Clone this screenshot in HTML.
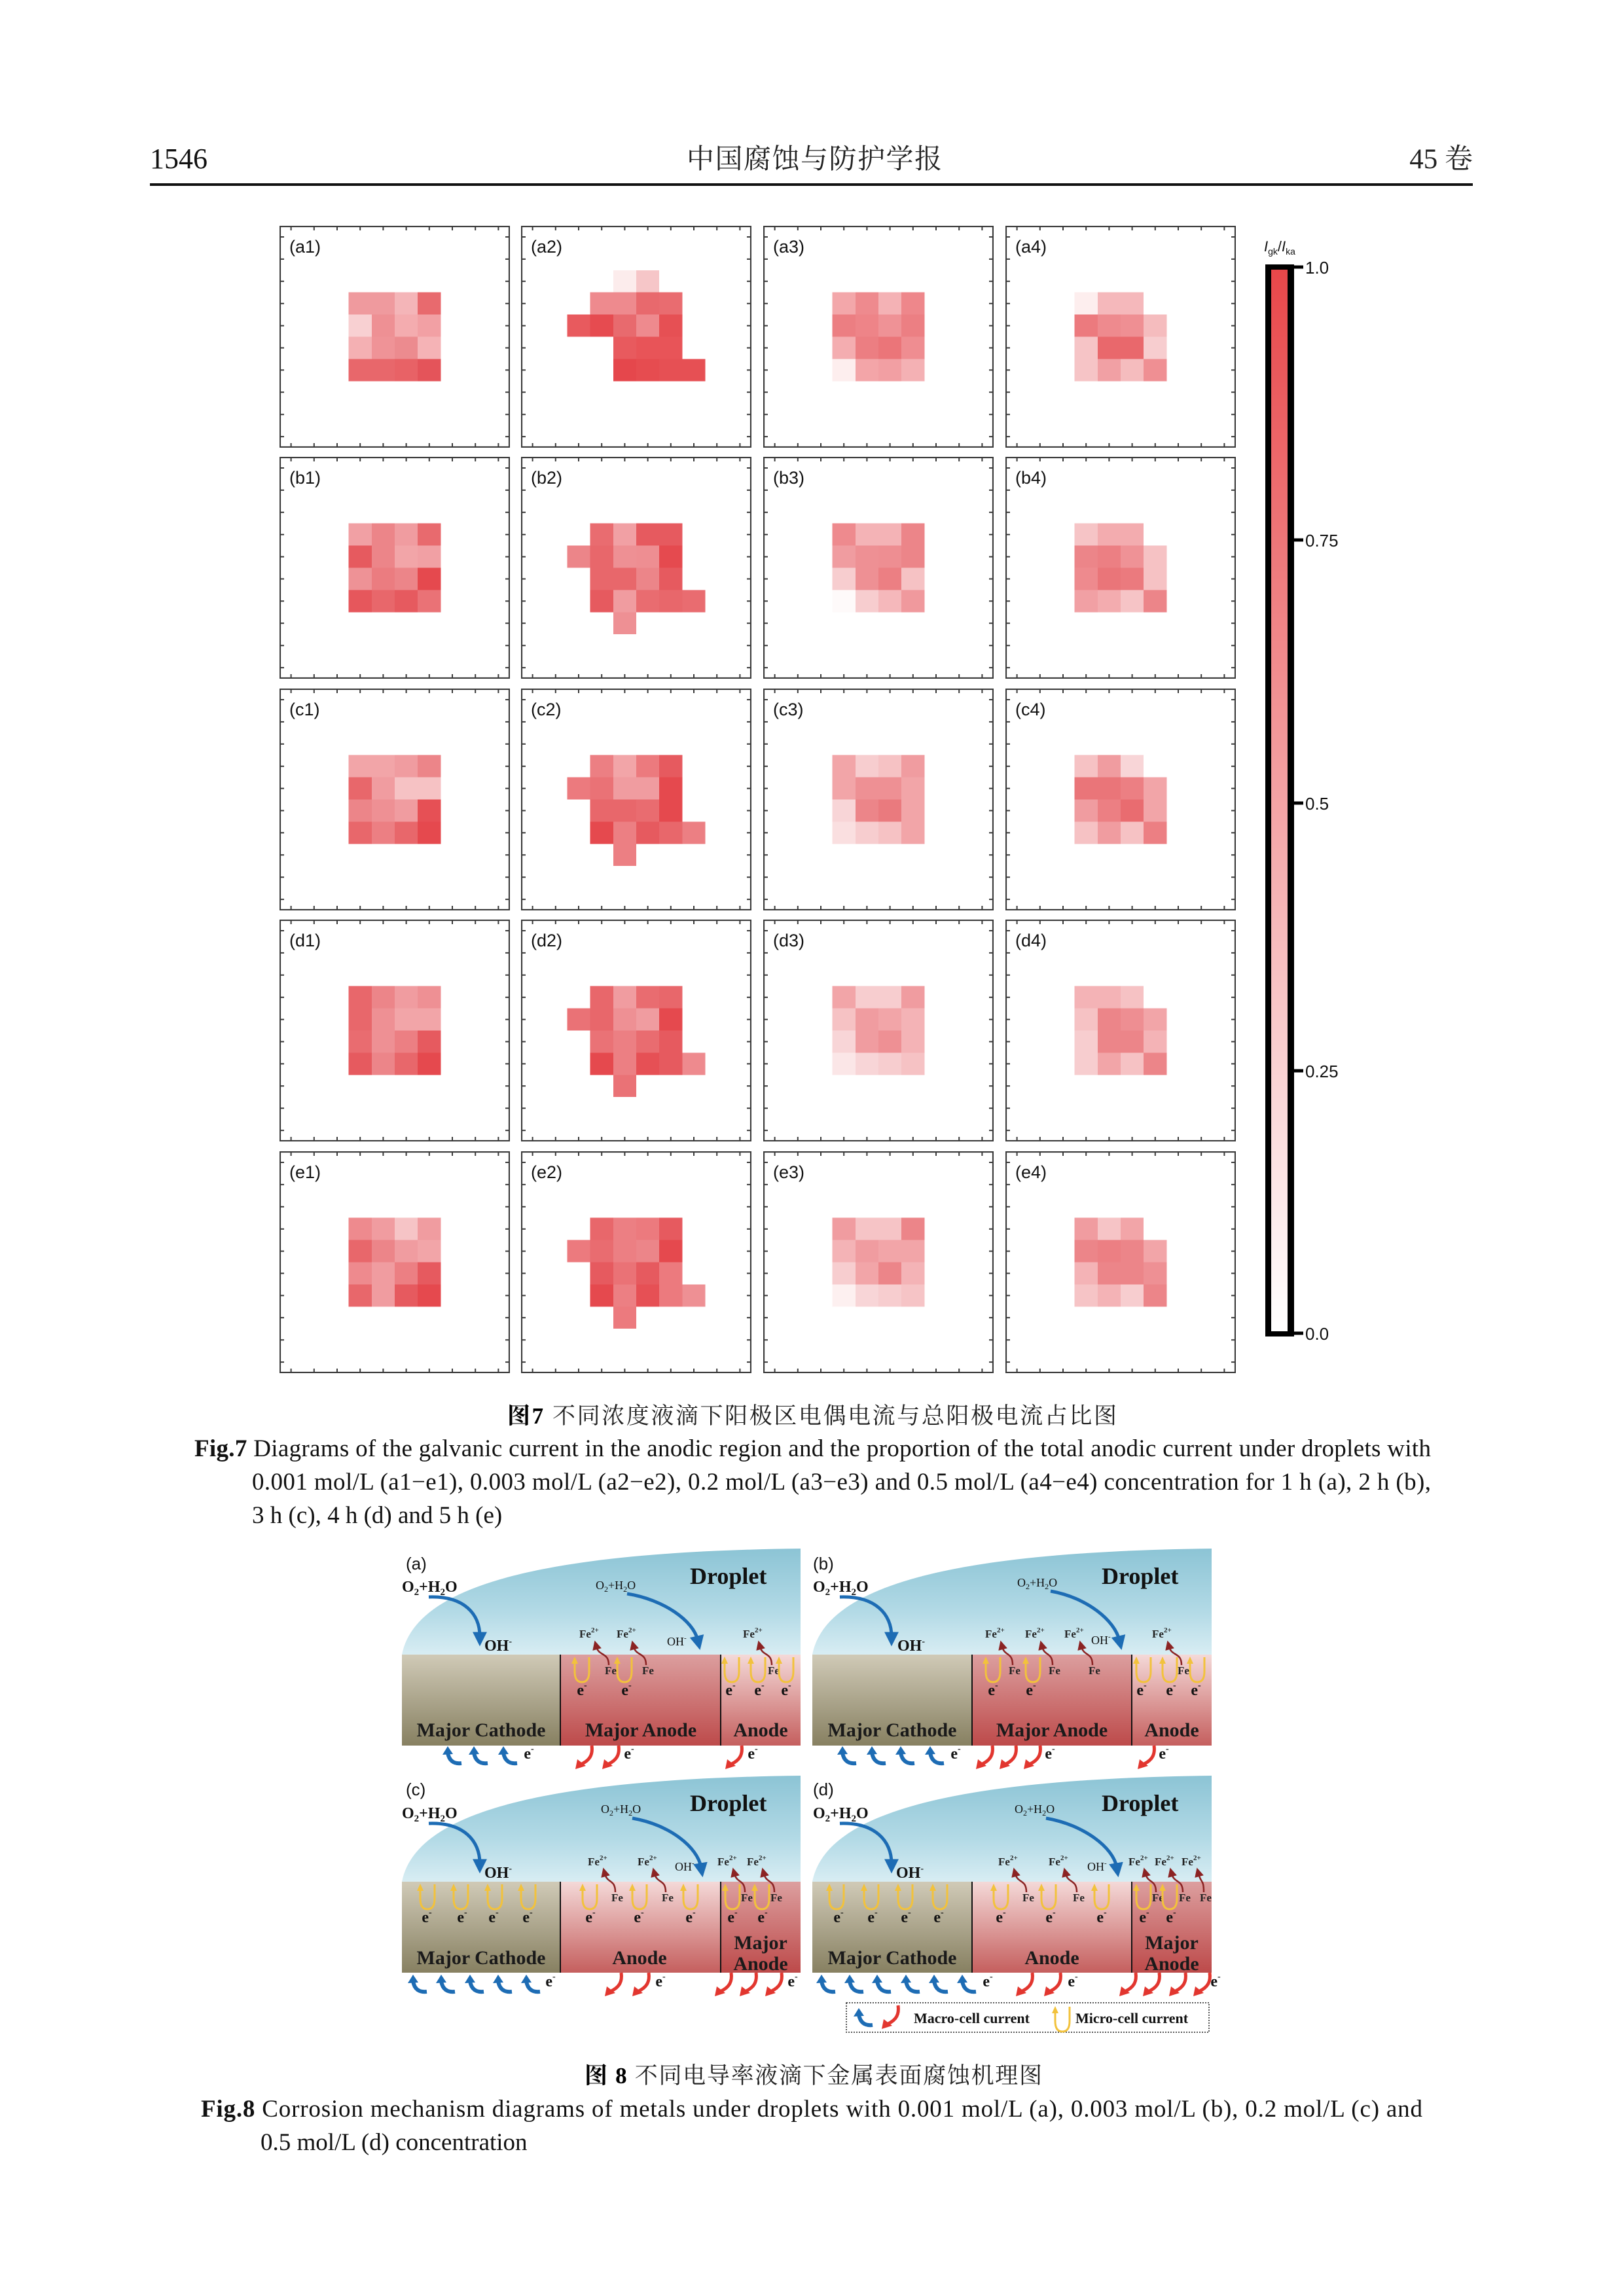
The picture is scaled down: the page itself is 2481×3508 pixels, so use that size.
<!DOCTYPE html>
<html><head><meta charset="utf-8">
<style>
html,body{margin:0;padding:0;background:#fff}
svg{display:block}
.pl{font-family:"Liberation Sans",sans-serif;font-size:27px;fill:#111}
.cb{font-family:"Liberation Sans",sans-serif;font-size:26px;fill:#111}
.cap{font-family:"Liberation Serif","Noto Serif CJK SC",serif;font-size:37px;fill:#111}
.zh{font-family:"Liberation Serif","Noto Serif CJK SC",serif;fill:#222}
.lbl{font-family:"Liberation Serif",serif;font-weight:bold;font-size:30px;fill:#1a1a1a;text-anchor:middle}
.dr{font-family:"Liberation Serif",serif;font-weight:bold;font-size:36px;fill:#111}
.ox{font-family:"Liberation Serif",serif;font-weight:bold;font-size:24px;fill:#111}
.oxs{font-family:"Liberation Serif",serif;font-size:18px;fill:#111}
.fe{font-family:"Liberation Serif",serif;font-weight:bold;font-size:17px;fill:#222}
.el{font-family:"Liberation Serif",serif;font-weight:bold;font-size:24px;fill:#111;text-anchor:middle}
.fl{font-family:"Liberation Sans",sans-serif;font-size:26px;fill:#111}
.ba{fill:none;stroke:#1d6cb4;stroke-width:5}
.fa{fill:none;stroke:#8b2323;stroke-width:2.5}
.lg{font-family:"Liberation Serif",serif;font-weight:bold;font-size:22px;fill:#111}
</style></head>
<body>
<svg width="2481" height="3508" viewBox="0 0 2481 3508">
<defs>
<g id="fr">
<rect x="1" y="1" width="350" height="337" fill="none" stroke="#3a3a3a" stroke-width="2.2"/>
<path fill="none" stroke="#3a3a3a" stroke-width="2" d="M17.6 2v5M52.8 2v5M88 2v5M123.2 2v5M158.4 2v5M193.6 2v5M228.8 2v5M264 2v5M299.2 2v5M334.4 2v5M17.6 337v-5M52.8 337v-5M88 337v-5M123.2 337v-5M158.4 337v-5M193.6 337v-5M228.8 337v-5M264 337v-5M299.2 337v-5M334.4 337v-5M2 17h5M2 50.9h5M2 84.8h5M2 118.7h5M2 152.6h5M2 186.5h5M2 220.4h5M2 254.3h5M2 288.2h5M2 322.1h5M350 17h-5M350 50.9h-5M350 84.8h-5M350 118.7h-5M350 152.6h-5M350 186.5h-5M350 220.4h-5M350 254.3h-5M350 288.2h-5M350 322.1h-5"/>
</g>
<linearGradient id="gcb" x1="0" y1="0" x2="0" y2="1"><stop offset="0" stop-color="#e8474a"/><stop offset="1" stop-color="#ffffff"/></linearGradient>
<linearGradient id="gDrop" x1="0" y1="0" x2="0" y2="1"><stop offset="0" stop-color="#8cc4d5"/><stop offset="0.6" stop-color="#b3dae6"/><stop offset="1" stop-color="#d8edf3"/></linearGradient>
<linearGradient id="gCath" x1="0" y1="0" x2="0" y2="1"><stop offset="0" stop-color="#d0cab7"/><stop offset="1" stop-color="#878061"/></linearGradient>
<linearGradient id="gMA" x1="0" y1="0" x2="0" y2="1"><stop offset="0" stop-color="#dc9f9f"/><stop offset="1" stop-color="#bd4a4a"/></linearGradient>
<linearGradient id="gAn" x1="0" y1="0" x2="0" y2="1"><stop offset="0" stop-color="#f4d9d8"/><stop offset="1" stop-color="#c55f5e"/></linearGradient>
<marker id="mbl" viewBox="0 0 10 10" refX="3" refY="5" markerWidth="22" markerHeight="22" markerUnits="userSpaceOnUse" orient="auto"><path d="M0,0L10,5L0,10Z" fill="#1d6cb4"/></marker>
<marker id="mr" viewBox="0 0 10 10" refX="3" refY="5" markerWidth="16" markerHeight="14" markerUnits="userSpaceOnUse" orient="auto"><path d="M0,0L10,5L0,10Z" fill="#8b2323"/></marker>
<g id="yu"><path d="M22,0V22Q22,38 11,38Q0,38 0,22V8" fill="none" stroke="#f2c23c" stroke-width="3"/><path d="M-5,10L0,-1L5,10Z" fill="#f2c23c"/></g>
<g id="bh"><path d="M30,26 Q12,28 9,10" fill="none" stroke="#1d6cb4" stroke-width="6"/><path d="M1,13 L9,0 L17,12Z" fill="#1d6cb4"/></g>
<g id="rh"><path d="M27,0 C29,14 24,22 12,28" fill="none" stroke="#e2362f" stroke-width="5"/><path d="M2,36 L5,21 L18,31Z" fill="#e2362f"/></g>
</defs>

<!-- Header -->
<text x="229" y="257" font-family="Liberation Serif,serif" font-size="44" fill="#111">1546</text>
<text x="1049" y="257" class="zh" font-size="42" textLength="390" lengthAdjust="spacing">中国腐蚀与防护学报</text>
<text x="2250" y="257" class="zh" font-size="43" text-anchor="end">45 卷</text>
<rect x="229" y="280" width="2021" height="4" fill="#111"/>

<!-- Row a -->
<svg x="427" y="345" width="352" height="339"><svg width="352" height="339" viewBox="0 0 10 10" preserveAspectRatio="none" shape-rendering="crispEdges">
<rect x="3" y="3" width="1" height="1" fill="#ef9a9e"/><rect x="4" y="3" width="1" height="1" fill="#ef9a9e"/><rect x="5" y="3" width="1" height="1" fill="#f4b5b8"/><rect x="6" y="3" width="1" height="1" fill="#e86a6e"/>
<rect x="3" y="4" width="1" height="1" fill="#f8d0d2"/><rect x="4" y="4" width="1" height="1" fill="#ee9094"/><rect x="5" y="4" width="1" height="1" fill="#f4acaf"/><rect x="6" y="4" width="1" height="1" fill="#f2a0a4"/>
<rect x="3" y="5" width="1" height="1" fill="#f4b0b3"/><rect x="4" y="5" width="1" height="1" fill="#ef9397"/><rect x="5" y="5" width="1" height="1" fill="#ec8b8f"/><rect x="6" y="5" width="1" height="1" fill="#f5b3b6"/>
<rect x="3" y="6" width="1" height="1" fill="#e8676b"/><rect x="4" y="6" width="1" height="1" fill="#e8676b"/><rect x="5" y="6" width="1" height="1" fill="#e86266"/><rect x="6" y="6" width="1" height="1" fill="#e4545a"/>
</svg><use href="#fr"/><text x="15" y="41" class="pl">(a1)</text></svg>

<svg x="796" y="345" width="352" height="339"><svg width="352" height="339" viewBox="0 0 10 10" preserveAspectRatio="none" shape-rendering="crispEdges">
<rect x="4" y="2" width="1" height="1" fill="#fcecec"/><rect x="5" y="2" width="1" height="1" fill="#f6c6c8"/>
<rect x="3" y="3" width="1" height="1" fill="#ee8a8e"/><rect x="4" y="3" width="1" height="1" fill="#ee8a8e"/><rect x="5" y="3" width="1" height="1" fill="#e8696d"/><rect x="6" y="3" width="1" height="1" fill="#e96c70"/>
<rect x="2" y="4" width="1" height="1" fill="#e85a5e"/><rect x="3" y="4" width="1" height="1" fill="#e64b50"/><rect x="4" y="4" width="1" height="1" fill="#e86a6e"/><rect x="5" y="4" width="1" height="1" fill="#ee8a8e"/><rect x="6" y="4" width="1" height="1" fill="#e65054"/>
<rect x="4" y="5" width="1" height="1" fill="#e85a5e"/><rect x="5" y="5" width="1" height="1" fill="#e85458"/><rect x="6" y="5" width="1" height="1" fill="#e85458"/>
<rect x="4" y="6" width="1" height="1" fill="#e5474c"/><rect x="5" y="6" width="1" height="1" fill="#e64c50"/><rect x="6" y="6" width="1" height="1" fill="#e65054"/><rect x="7" y="6" width="1" height="1" fill="#e65054"/>
</svg><use href="#fr"/><text x="15" y="41" class="pl">(a2)</text></svg>

<svg x="1166" y="345" width="352" height="339"><svg width="352" height="339" viewBox="0 0 10 10" preserveAspectRatio="none" shape-rendering="crispEdges">
<rect x="3" y="3" width="1" height="1" fill="#f3a7aa"/><rect x="4" y="3" width="1" height="1" fill="#ee8a8e"/><rect x="5" y="3" width="1" height="1" fill="#f4b2b5"/><rect x="6" y="3" width="1" height="1" fill="#ee878b"/>
<rect x="3" y="4" width="1" height="1" fill="#ec7e82"/><rect x="4" y="4" width="1" height="1" fill="#ee8488"/><rect x="5" y="4" width="1" height="1" fill="#ef9296"/><rect x="6" y="4" width="1" height="1" fill="#ec7f83"/>
<rect x="3" y="5" width="1" height="1" fill="#f4adb0"/><rect x="4" y="5" width="1" height="1" fill="#ec7e82"/><rect x="5" y="5" width="1" height="1" fill="#eb7579"/><rect x="6" y="5" width="1" height="1" fill="#ef8d91"/>
<rect x="3" y="6" width="1" height="1" fill="#fdeeee"/><rect x="4" y="6" width="1" height="1" fill="#f3a5a8"/><rect x="5" y="6" width="1" height="1" fill="#f29fa3"/><rect x="6" y="6" width="1" height="1" fill="#f4b1b4"/>
</svg><use href="#fr"/><text x="15" y="41" class="pl">(a3)</text></svg>

<svg x="1536" y="345" width="352" height="339"><svg width="352" height="339" viewBox="0 0 10 10" preserveAspectRatio="none" shape-rendering="crispEdges">
<rect x="3" y="3" width="1" height="1" fill="#fdeeee"/><rect x="4" y="3" width="1" height="1" fill="#f5b8bb"/><rect x="5" y="3" width="1" height="1" fill="#f5b8bb"/>
<rect x="3" y="4" width="1" height="1" fill="#ec7a7e"/><rect x="4" y="4" width="1" height="1" fill="#ee8a8e"/><rect x="5" y="4" width="1" height="1" fill="#ef8f93"/><rect x="6" y="4" width="1" height="1" fill="#f5bcbe"/>
<rect x="3" y="5" width="1" height="1" fill="#f6c4c6"/><rect x="4" y="5" width="1" height="1" fill="#e9686c"/><rect x="5" y="5" width="1" height="1" fill="#e9686c"/><rect x="6" y="5" width="1" height="1" fill="#f7cdcf"/>
<rect x="3" y="6" width="1" height="1" fill="#f6c4c6"/><rect x="4" y="6" width="1" height="1" fill="#f1a0a4"/><rect x="5" y="6" width="1" height="1" fill="#f5bcbe"/><rect x="6" y="6" width="1" height="1" fill="#ef8f93"/>
</svg><use href="#fr"/><text x="15" y="41" class="pl">(a4)</text></svg>

<!-- Row b -->
<svg x="427" y="698" width="352" height="339"><svg width="352" height="339" viewBox="0 0 10 10" preserveAspectRatio="none" shape-rendering="crispEdges">
<rect x="3" y="3" width="1" height="1" fill="#f1a0a4"/><rect x="4" y="3" width="1" height="1" fill="#ec8589"/><rect x="5" y="3" width="1" height="1" fill="#f09ca0"/><rect x="6" y="3" width="1" height="1" fill="#e86a6e"/>
<rect x="3" y="4" width="1" height="1" fill="#e65a5f"/><rect x="4" y="4" width="1" height="1" fill="#ec8589"/><rect x="5" y="4" width="1" height="1" fill="#f2a5a8"/><rect x="6" y="4" width="1" height="1" fill="#f1a0a4"/>
<rect x="3" y="5" width="1" height="1" fill="#ee9296"/><rect x="4" y="5" width="1" height="1" fill="#eb7c80"/><rect x="5" y="5" width="1" height="1" fill="#ec8589"/><rect x="6" y="5" width="1" height="1" fill="#e5494e"/>
<rect x="3" y="6" width="1" height="1" fill="#e6575c"/><rect x="4" y="6" width="1" height="1" fill="#e8676b"/><rect x="5" y="6" width="1" height="1" fill="#e65a5f"/><rect x="6" y="6" width="1" height="1" fill="#ea7276"/>
</svg><use href="#fr"/><text x="15" y="41" class="pl">(b1)</text></svg>

<svg x="796" y="698" width="352" height="339"><svg width="352" height="339" viewBox="0 0 10 10" preserveAspectRatio="none" shape-rendering="crispEdges">
<rect x="3" y="3" width="1" height="1" fill="#e96c70"/><rect x="4" y="3" width="1" height="1" fill="#f1a0a4"/><rect x="5" y="3" width="1" height="1" fill="#e65a5f"/><rect x="6" y="3" width="1" height="1" fill="#e65a5f"/>
<rect x="2" y="4" width="1" height="1" fill="#ec8589"/><rect x="3" y="4" width="1" height="1" fill="#e8676b"/><rect x="4" y="4" width="1" height="1" fill="#ee9094"/><rect x="5" y="4" width="1" height="1" fill="#ee8e92"/><rect x="6" y="4" width="1" height="1" fill="#e54a4f"/>
<rect x="3" y="5" width="1" height="1" fill="#e8676b"/><rect x="4" y="5" width="1" height="1" fill="#e8676b"/><rect x="5" y="5" width="1" height="1" fill="#ec8589"/><rect x="6" y="5" width="1" height="1" fill="#e65a5f"/>
<rect x="3" y="6" width="1" height="1" fill="#e65a5f"/><rect x="4" y="6" width="1" height="1" fill="#f09ca0"/><rect x="5" y="6" width="1" height="1" fill="#e96c70"/><rect x="6" y="6" width="1" height="1" fill="#e8676b"/><rect x="7" y="6" width="1" height="1" fill="#e96c70"/>
<rect x="4" y="7" width="1" height="1" fill="#ee9094"/>
</svg><use href="#fr"/><text x="15" y="41" class="pl">(b2)</text></svg>

<svg x="1166" y="698" width="352" height="339"><svg width="352" height="339" viewBox="0 0 10 10" preserveAspectRatio="none" shape-rendering="crispEdges">
<rect x="3" y="3" width="1" height="1" fill="#ee8a8e"/><rect x="4" y="3" width="1" height="1" fill="#f4b3b6"/><rect x="5" y="3" width="1" height="1" fill="#f4b3b6"/><rect x="6" y="3" width="1" height="1" fill="#ec8589"/>
<rect x="3" y="4" width="1" height="1" fill="#f09ca0"/><rect x="4" y="4" width="1" height="1" fill="#ee9094"/><rect x="5" y="4" width="1" height="1" fill="#ee8e92"/><rect x="6" y="4" width="1" height="1" fill="#ec8589"/>
<rect x="3" y="5" width="1" height="1" fill="#f7cdcf"/><rect x="4" y="5" width="1" height="1" fill="#ee9094"/><rect x="5" y="5" width="1" height="1" fill="#ec7f83"/><rect x="6" y="5" width="1" height="1" fill="#f6c2c4"/>
<rect x="3" y="6" width="1" height="1" fill="#fefafa"/><rect x="4" y="6" width="1" height="1" fill="#f7cdcf"/><rect x="5" y="6" width="1" height="1" fill="#f5b8bb"/><rect x="6" y="6" width="1" height="1" fill="#f0999d"/>
</svg><use href="#fr"/><text x="15" y="41" class="pl">(b3)</text></svg>

<svg x="1536" y="698" width="352" height="339"><svg width="352" height="339" viewBox="0 0 10 10" preserveAspectRatio="none" shape-rendering="crispEdges">
<rect x="3" y="3" width="1" height="1" fill="#f6c4c6"/><rect x="4" y="3" width="1" height="1" fill="#f3acaf"/><rect x="5" y="3" width="1" height="1" fill="#f3acaf"/>
<rect x="3" y="4" width="1" height="1" fill="#ec8589"/><rect x="4" y="4" width="1" height="1" fill="#ec7f83"/><rect x="5" y="4" width="1" height="1" fill="#ef9296"/><rect x="6" y="4" width="1" height="1" fill="#f6c2c4"/>
<rect x="3" y="5" width="1" height="1" fill="#ee8a8e"/><rect x="4" y="5" width="1" height="1" fill="#ea7579"/><rect x="5" y="5" width="1" height="1" fill="#eb7a7e"/><rect x="6" y="5" width="1" height="1" fill="#f6c2c4"/>
<rect x="3" y="6" width="1" height="1" fill="#f1a0a4"/><rect x="4" y="6" width="1" height="1" fill="#f3acaf"/><rect x="5" y="6" width="1" height="1" fill="#f6c4c6"/><rect x="6" y="6" width="1" height="1" fill="#ec8589"/>
</svg><use href="#fr"/><text x="15" y="41" class="pl">(b4)</text></svg>

<!-- Row c -->
<svg x="427" y="1052" width="352" height="339"><svg width="352" height="339" viewBox="0 0 10 10" preserveAspectRatio="none" shape-rendering="crispEdges">
<rect x="3" y="3" width="1" height="1" fill="#f2a5a8"/><rect x="4" y="3" width="1" height="1" fill="#f2a5a8"/><rect x="5" y="3" width="1" height="1" fill="#f09ca0"/><rect x="6" y="3" width="1" height="1" fill="#ec8589"/>
<rect x="3" y="4" width="1" height="1" fill="#e8676b"/><rect x="4" y="4" width="1" height="1" fill="#f09ca0"/><rect x="5" y="4" width="1" height="1" fill="#f6c2c4"/><rect x="6" y="4" width="1" height="1" fill="#f6c2c4"/>
<rect x="3" y="5" width="1" height="1" fill="#ec8589"/><rect x="4" y="5" width="1" height="1" fill="#ee9094"/><rect x="5" y="5" width="1" height="1" fill="#f09ca0"/><rect x="6" y="5" width="1" height="1" fill="#e65055"/>
<rect x="3" y="6" width="1" height="1" fill="#e8676b"/><rect x="4" y="6" width="1" height="1" fill="#ec7f83"/><rect x="5" y="6" width="1" height="1" fill="#e8676b"/><rect x="6" y="6" width="1" height="1" fill="#e5494e"/>
</svg><use href="#fr"/><text x="15" y="41" class="pl">(c1)</text></svg>

<svg x="796" y="1052" width="352" height="339"><svg width="352" height="339" viewBox="0 0 10 10" preserveAspectRatio="none" shape-rendering="crispEdges">
<rect x="3" y="3" width="1" height="1" fill="#ec7f83"/><rect x="4" y="3" width="1" height="1" fill="#f2a5a8"/><rect x="5" y="3" width="1" height="1" fill="#ec7a7e"/><rect x="6" y="3" width="1" height="1" fill="#e65a5f"/>
<rect x="2" y="4" width="1" height="1" fill="#ec7a7e"/><rect x="3" y="4" width="1" height="1" fill="#ea7276"/><rect x="4" y="4" width="1" height="1" fill="#f09ca0"/><rect x="5" y="4" width="1" height="1" fill="#f09ca0"/><rect x="6" y="4" width="1" height="1" fill="#e5494e"/>
<rect x="3" y="5" width="1" height="1" fill="#e8676b"/><rect x="4" y="5" width="1" height="1" fill="#e8676b"/><rect x="5" y="5" width="1" height="1" fill="#e96c70"/><rect x="6" y="5" width="1" height="1" fill="#e5494e"/>
<rect x="3" y="6" width="1" height="1" fill="#e5494e"/><rect x="4" y="6" width="1" height="1" fill="#ec7f83"/><rect x="5" y="6" width="1" height="1" fill="#e65a5f"/><rect x="6" y="6" width="1" height="1" fill="#e8676b"/><rect x="7" y="6" width="1" height="1" fill="#ec7f83"/>
<rect x="4" y="7" width="1" height="1" fill="#ec7f83"/>
</svg><use href="#fr"/><text x="15" y="41" class="pl">(c2)</text></svg>

<svg x="1166" y="1052" width="352" height="339"><svg width="352" height="339" viewBox="0 0 10 10" preserveAspectRatio="none" shape-rendering="crispEdges">
<rect x="3" y="3" width="1" height="1" fill="#f2a5a8"/><rect x="4" y="3" width="1" height="1" fill="#f7cdcf"/><rect x="5" y="3" width="1" height="1" fill="#f6c2c4"/><rect x="6" y="3" width="1" height="1" fill="#f09ca0"/>
<rect x="3" y="4" width="1" height="1" fill="#f2a5a8"/><rect x="4" y="4" width="1" height="1" fill="#ee9094"/><rect x="5" y="4" width="1" height="1" fill="#ee9094"/><rect x="6" y="4" width="1" height="1" fill="#f2a5a8"/>
<rect x="3" y="5" width="1" height="1" fill="#f8d5d7"/><rect x="4" y="5" width="1" height="1" fill="#ec8589"/><rect x="5" y="5" width="1" height="1" fill="#ea7a7e"/><rect x="6" y="5" width="1" height="1" fill="#f2a5a8"/>
<rect x="3" y="6" width="1" height="1" fill="#fadfe0"/><rect x="4" y="6" width="1" height="1" fill="#f7cdcf"/><rect x="5" y="6" width="1" height="1" fill="#f6c2c4"/><rect x="6" y="6" width="1" height="1" fill="#f2a5a8"/>
</svg><use href="#fr"/><text x="15" y="41" class="pl">(c3)</text></svg>

<svg x="1536" y="1052" width="352" height="339"><svg width="352" height="339" viewBox="0 0 10 10" preserveAspectRatio="none" shape-rendering="crispEdges">
<rect x="3" y="3" width="1" height="1" fill="#f6c2c4"/><rect x="4" y="3" width="1" height="1" fill="#f09ca0"/><rect x="5" y="3" width="1" height="1" fill="#f8d5d7"/>
<rect x="3" y="4" width="1" height="1" fill="#ea7579"/><rect x="4" y="4" width="1" height="1" fill="#ea7579"/><rect x="5" y="4" width="1" height="1" fill="#ec7f83"/><rect x="6" y="4" width="1" height="1" fill="#f2a5a8"/>
<rect x="3" y="5" width="1" height="1" fill="#f09ca0"/><rect x="4" y="5" width="1" height="1" fill="#ec7f83"/><rect x="5" y="5" width="1" height="1" fill="#e96c70"/><rect x="6" y="5" width="1" height="1" fill="#f2a5a8"/>
<rect x="3" y="6" width="1" height="1" fill="#f6c2c4"/><rect x="4" y="6" width="1" height="1" fill="#f09ca0"/><rect x="5" y="6" width="1" height="1" fill="#f6c2c4"/><rect x="6" y="6" width="1" height="1" fill="#ec7f83"/>
</svg><use href="#fr"/><text x="15" y="41" class="pl">(c4)</text></svg>

<!-- Row d -->
<svg x="427" y="1405" width="352" height="339"><svg width="352" height="339" viewBox="0 0 10 10" preserveAspectRatio="none" shape-rendering="crispEdges">
<rect x="3" y="3" width="1" height="1" fill="#e8676b"/><rect x="4" y="3" width="1" height="1" fill="#ec8589"/><rect x="5" y="3" width="1" height="1" fill="#f09ca0"/><rect x="6" y="3" width="1" height="1" fill="#ee9094"/>
<rect x="3" y="4" width="1" height="1" fill="#e8676b"/><rect x="4" y="4" width="1" height="1" fill="#ee9094"/><rect x="5" y="4" width="1" height="1" fill="#f2a5a8"/><rect x="6" y="4" width="1" height="1" fill="#f2a5a8"/>
<rect x="3" y="5" width="1" height="1" fill="#e96c70"/><rect x="4" y="5" width="1" height="1" fill="#ee9094"/><rect x="5" y="5" width="1" height="1" fill="#ec7f83"/><rect x="6" y="5" width="1" height="1" fill="#e65a5f"/>
<rect x="3" y="6" width="1" height="1" fill="#e65a5f"/><rect x="4" y="6" width="1" height="1" fill="#ec8589"/><rect x="5" y="6" width="1" height="1" fill="#e8676b"/><rect x="6" y="6" width="1" height="1" fill="#e5494e"/>
</svg><use href="#fr"/><text x="15" y="41" class="pl">(d1)</text></svg>

<svg x="796" y="1405" width="352" height="339"><svg width="352" height="339" viewBox="0 0 10 10" preserveAspectRatio="none" shape-rendering="crispEdges">
<rect x="3" y="3" width="1" height="1" fill="#e8676b"/><rect x="4" y="3" width="1" height="1" fill="#f09ca0"/><rect x="5" y="3" width="1" height="1" fill="#e96c70"/><rect x="6" y="3" width="1" height="1" fill="#e8676b"/>
<rect x="2" y="4" width="1" height="1" fill="#ea7276"/><rect x="3" y="4" width="1" height="1" fill="#e8676b"/><rect x="4" y="4" width="1" height="1" fill="#ee9094"/><rect x="5" y="4" width="1" height="1" fill="#f09ca0"/><rect x="6" y="4" width="1" height="1" fill="#e5494e"/>
<rect x="3" y="5" width="1" height="1" fill="#ea7276"/><rect x="4" y="5" width="1" height="1" fill="#ec7f83"/><rect x="5" y="5" width="1" height="1" fill="#e96c70"/><rect x="6" y="5" width="1" height="1" fill="#e65a5f"/>
<rect x="3" y="6" width="1" height="1" fill="#e5494e"/><rect x="4" y="6" width="1" height="1" fill="#ec7f83"/><rect x="5" y="6" width="1" height="1" fill="#e65055"/><rect x="6" y="6" width="1" height="1" fill="#e65a5f"/><rect x="7" y="6" width="1" height="1" fill="#ee8a8e"/>
<rect x="4" y="7" width="1" height="1" fill="#ea7276"/>
</svg><use href="#fr"/><text x="15" y="41" class="pl">(d2)</text></svg>

<svg x="1166" y="1405" width="352" height="339"><svg width="352" height="339" viewBox="0 0 10 10" preserveAspectRatio="none" shape-rendering="crispEdges">
<rect x="3" y="3" width="1" height="1" fill="#f2a5a8"/><rect x="4" y="3" width="1" height="1" fill="#f7cdcf"/><rect x="5" y="3" width="1" height="1" fill="#f7cdcf"/><rect x="6" y="3" width="1" height="1" fill="#f09ca0"/>
<rect x="3" y="4" width="1" height="1" fill="#f6c2c4"/><rect x="4" y="4" width="1" height="1" fill="#f09ca0"/><rect x="5" y="4" width="1" height="1" fill="#f2a5a8"/><rect x="6" y="4" width="1" height="1" fill="#f4b3b6"/>
<rect x="3" y="5" width="1" height="1" fill="#f8d5d7"/><rect x="4" y="5" width="1" height="1" fill="#f09ca0"/><rect x="5" y="5" width="1" height="1" fill="#ee9094"/><rect x="6" y="5" width="1" height="1" fill="#f4b3b6"/>
<rect x="3" y="6" width="1" height="1" fill="#fbe6e7"/><rect x="4" y="6" width="1" height="1" fill="#f8d5d7"/><rect x="5" y="6" width="1" height="1" fill="#f7cdcf"/><rect x="6" y="6" width="1" height="1" fill="#f6c2c4"/>
</svg><use href="#fr"/><text x="15" y="41" class="pl">(d3)</text></svg>

<svg x="1536" y="1405" width="352" height="339"><svg width="352" height="339" viewBox="0 0 10 10" preserveAspectRatio="none" shape-rendering="crispEdges">
<rect x="3" y="3" width="1" height="1" fill="#f4b3b6"/><rect x="4" y="3" width="1" height="1" fill="#f4b3b6"/><rect x="5" y="3" width="1" height="1" fill="#f6c2c4"/>
<rect x="3" y="4" width="1" height="1" fill="#f6c2c4"/><rect x="4" y="4" width="1" height="1" fill="#ec8589"/><rect x="5" y="4" width="1" height="1" fill="#ee8e92"/><rect x="6" y="4" width="1" height="1" fill="#f2a5a8"/>
<rect x="3" y="5" width="1" height="1" fill="#f7cdcf"/><rect x="4" y="5" width="1" height="1" fill="#ec8589"/><rect x="5" y="5" width="1" height="1" fill="#ec8589"/><rect x="6" y="5" width="1" height="1" fill="#f4b3b6"/>
<rect x="3" y="6" width="1" height="1" fill="#f7cdcf"/><rect x="4" y="6" width="1" height="1" fill="#f2a5a8"/><rect x="5" y="6" width="1" height="1" fill="#f6c2c4"/><rect x="6" y="6" width="1" height="1" fill="#ec8589"/>
</svg><use href="#fr"/><text x="15" y="41" class="pl">(d4)</text></svg>

<!-- Row e -->
<svg x="427" y="1759" width="352" height="339"><svg width="352" height="339" viewBox="0 0 10 10" preserveAspectRatio="none" shape-rendering="crispEdges">
<rect x="3" y="3" width="1" height="1" fill="#ee8a8e"/><rect x="4" y="3" width="1" height="1" fill="#f09ca0"/><rect x="5" y="3" width="1" height="1" fill="#f6c4c6"/><rect x="6" y="3" width="1" height="1" fill="#f09ca0"/>
<rect x="3" y="4" width="1" height="1" fill="#e8676b"/><rect x="4" y="4" width="1" height="1" fill="#ec8589"/><rect x="5" y="4" width="1" height="1" fill="#f09ca0"/><rect x="6" y="4" width="1" height="1" fill="#f2a5a8"/>
<rect x="3" y="5" width="1" height="1" fill="#ee8a8e"/><rect x="4" y="5" width="1" height="1" fill="#f09ca0"/><rect x="5" y="5" width="1" height="1" fill="#ec7f83"/><rect x="6" y="5" width="1" height="1" fill="#e65a5f"/>
<rect x="3" y="6" width="1" height="1" fill="#e8676b"/><rect x="4" y="6" width="1" height="1" fill="#f09ca0"/><rect x="5" y="6" width="1" height="1" fill="#e65a5f"/><rect x="6" y="6" width="1" height="1" fill="#e5494e"/>
</svg><use href="#fr"/><text x="15" y="41" class="pl">(e1)</text></svg>

<svg x="796" y="1759" width="352" height="339"><svg width="352" height="339" viewBox="0 0 10 10" preserveAspectRatio="none" shape-rendering="crispEdges">
<rect x="3" y="3" width="1" height="1" fill="#e8676b"/><rect x="4" y="3" width="1" height="1" fill="#ec7f83"/><rect x="5" y="3" width="1" height="1" fill="#ec7a7e"/><rect x="6" y="3" width="1" height="1" fill="#e65a5f"/>
<rect x="2" y="4" width="1" height="1" fill="#ec7a7e"/><rect x="3" y="4" width="1" height="1" fill="#e96c70"/><rect x="4" y="4" width="1" height="1" fill="#ec7f83"/><rect x="5" y="4" width="1" height="1" fill="#ec8589"/><rect x="6" y="4" width="1" height="1" fill="#e5494e"/>
<rect x="3" y="5" width="1" height="1" fill="#e65a5f"/><rect x="4" y="5" width="1" height="1" fill="#ea7276"/><rect x="5" y="5" width="1" height="1" fill="#e65a5f"/><rect x="6" y="5" width="1" height="1" fill="#ec7a7e"/>
<rect x="3" y="6" width="1" height="1" fill="#e5494e"/><rect x="4" y="6" width="1" height="1" fill="#ec7f83"/><rect x="5" y="6" width="1" height="1" fill="#e65055"/><rect x="6" y="6" width="1" height="1" fill="#ec7a7e"/><rect x="7" y="6" width="1" height="1" fill="#ee9094"/>
<rect x="4" y="7" width="1" height="1" fill="#ec7a7e"/>
</svg><use href="#fr"/><text x="15" y="41" class="pl">(e2)</text></svg>

<svg x="1166" y="1759" width="352" height="339"><svg width="352" height="339" viewBox="0 0 10 10" preserveAspectRatio="none" shape-rendering="crispEdges">
<rect x="3" y="3" width="1" height="1" fill="#f09ca0"/><rect x="4" y="3" width="1" height="1" fill="#f6c4c6"/><rect x="5" y="3" width="1" height="1" fill="#f6c4c6"/><rect x="6" y="3" width="1" height="1" fill="#ec8589"/>
<rect x="3" y="4" width="1" height="1" fill="#f4b3b6"/><rect x="4" y="4" width="1" height="1" fill="#f09ca0"/><rect x="5" y="4" width="1" height="1" fill="#f2a5a8"/><rect x="6" y="4" width="1" height="1" fill="#f2a5a8"/>
<rect x="3" y="5" width="1" height="1" fill="#f7cdcf"/><rect x="4" y="5" width="1" height="1" fill="#f2a5a8"/><rect x="5" y="5" width="1" height="1" fill="#ec8589"/><rect x="6" y="5" width="1" height="1" fill="#f4b3b6"/>
<rect x="3" y="6" width="1" height="1" fill="#fdf0f0"/><rect x="4" y="6" width="1" height="1" fill="#f8d5d7"/><rect x="5" y="6" width="1" height="1" fill="#f7cdcf"/><rect x="6" y="6" width="1" height="1" fill="#f6c4c6"/>
</svg><use href="#fr"/><text x="15" y="41" class="pl">(e3)</text></svg>

<svg x="1536" y="1759" width="352" height="339"><svg width="352" height="339" viewBox="0 0 10 10" preserveAspectRatio="none" shape-rendering="crispEdges">
<rect x="3" y="3" width="1" height="1" fill="#f09ca0"/><rect x="4" y="3" width="1" height="1" fill="#f6c4c6"/><rect x="5" y="3" width="1" height="1" fill="#f2a5a8"/>
<rect x="3" y="4" width="1" height="1" fill="#ec8589"/><rect x="4" y="4" width="1" height="1" fill="#ec7f83"/><rect x="5" y="4" width="1" height="1" fill="#ec8589"/><rect x="6" y="4" width="1" height="1" fill="#f2a5a8"/>
<rect x="3" y="5" width="1" height="1" fill="#f4b3b6"/><rect x="4" y="5" width="1" height="1" fill="#ec8589"/><rect x="5" y="5" width="1" height="1" fill="#ec8589"/><rect x="6" y="5" width="1" height="1" fill="#ee9094"/>
<rect x="3" y="6" width="1" height="1" fill="#f6c4c6"/><rect x="4" y="6" width="1" height="1" fill="#f4b3b6"/><rect x="5" y="6" width="1" height="1" fill="#f7cdcf"/><rect x="6" y="6" width="1" height="1" fill="#ec8589"/>
</svg><use href="#fr"/><text x="15" y="41" class="pl">(e4)</text></svg>

<!-- Colorbar -->
<text x="1931" y="384" font-family="Liberation Sans,sans-serif" font-size="22" fill="#111"><tspan font-style="italic">I</tspan><tspan font-size="14" dy="5">gk</tspan><tspan dy="-5">/</tspan><tspan font-style="italic">I</tspan><tspan font-size="14" dy="5">ka</tspan></text>
<rect x="1933" y="404" width="44" height="1638" fill="#000"/>
<rect x="1942" y="412" width="25" height="1622" fill="url(#gcb)"/>
<path d="M1977 408h14M1977 825h14M1977 1227h14M1977 1636h14M1977 2037h14" stroke="#000" stroke-width="5"/>
<text x="1994" y="418" class="cb">1.0</text>
<text x="1994" y="835" class="cb">0.75</text>
<text x="1994" y="1237" class="cb">0.5</text>
<text x="1994" y="1646" class="cb">0.25</text>
<text x="1994" y="2047" class="cb">0.0</text>

<!-- Fig 7 caption -->
<text x="775" y="2175" class="zh" font-size="35" textLength="931" lengthAdjust="spacing"><tspan font-weight="bold" fill="#000">图7</tspan> 不同浓度液滴下阳极区电偶电流与总阳极电流占比图</text>
<text x="297" y="2225" class="cap" textLength="1889" lengthAdjust="spacing"><tspan font-weight="bold">Fig.7</tspan> Diagrams of the galvanic current in the anodic region and the proportion of the total anodic current under droplets with</text>
<text x="385" y="2276" class="cap" textLength="1801" lengthAdjust="spacing">0.001 mol/L (a1−e1), 0.003 mol/L (a2−e2), 0.2 mol/L (a3−e3) and 0.5 mol/L (a4−e4) concentration for 1 h (a), 2 h (b),</text>
<text x="385" y="2327" class="cap">3 h (c), 4 h (d) and 5 h (e)</text>

<!-- Fig 8 panel a -->
<g transform="translate(614,2366)">
<path d="M0,162 C20,60 200,5 609,0 L609,162Z" fill="url(#gDrop)"/>
<rect x="0" y="162" width="242" height="139" fill="url(#gCath)"/>
<rect x="242" y="162" width="245" height="139" fill="url(#gMA)"/>
<rect x="487" y="162" width="122" height="139" fill="url(#gAn)"/>
<path d="M242,162V301M487,162V301" stroke="#111" stroke-width="2"/>
<text x="6" y="32" class="fl">(a)</text>
<text x="440" y="54" class="dr">Droplet</text>
<text x="0" y="66" class="ox">O<tspan dy="5" font-size="15">2</tspan><tspan dy="-5">+H</tspan><tspan dy="5" font-size="15">2</tspan><tspan dy="-5">O</tspan></text>
<path d="M41,74 C95,72 119,100 119,134" class="ba" marker-end="url(#mbl)"/>
<text x="126" y="156" class="ox">OH<tspan dy="-10" font-size="14">-</tspan></text>
<text x="296" y="62" class="oxs">O<tspan dy="4" font-size="12">2</tspan><tspan dy="-4">+H</tspan><tspan dy="4" font-size="12">2</tspan><tspan dy="-4">O</tspan></text>
<path d="M344,69 C400,78 445,110 452,140" class="ba" marker-end="url(#mbl)"/>
<text x="405" y="148" class="oxs">OH<tspan dy="-8" font-size="11">-</tspan></text>
<text x="271" y="136" class="fe">Fe<tspan dy="-8" font-size="11">2+</tspan></text>
<text x="328" y="136" class="fe">Fe<tspan dy="-8" font-size="11">2+</tspan></text>
<text x="521" y="136" class="fe">Fe<tspan dy="-8" font-size="11">2+</tspan></text>
<path d="M316,178 C316,158 301,165 297,150" class="fa" marker-end="url(#mr)"/>
<path d="M373,178 C373,158 358,165 354,150" class="fa" marker-end="url(#mr)"/>
<path d="M565,178 C565,158 551,165 547,150" class="fa" marker-end="url(#mr)"/>
<text x="310" y="192" class="fe">Fe</text><text x="367" y="192" class="fe">Fe</text><text x="559" y="192" class="fe">Fe</text>
<use href="#yu" x="264" y="166"/><use href="#yu" x="329" y="166"/><use href="#yu" x="493" y="166"/><use href="#yu" x="533" y="166"/><use href="#yu" x="576" y="166"/>
<text x="275" y="224" class="el">e<tspan dy="-11" font-size="14">-</tspan></text>
<text x="343" y="224" class="el">e<tspan dy="-11" font-size="14">-</tspan></text>
<text x="502" y="224" class="el">e<tspan dy="-11" font-size="14">-</tspan></text>
<text x="546" y="224" class="el">e<tspan dy="-11" font-size="14">-</tspan></text>
<text x="587" y="224" class="el">e<tspan dy="-11" font-size="14">-</tspan></text>
<text x="121" y="287" class="lbl">Major Cathode</text>
<text x="365" y="287" class="lbl">Major Anode</text>
<text x="548" y="287" class="lbl">Anode</text>
<use href="#bh" x="61" y="302"/><use href="#bh" x="101" y="302"/><use href="#bh" x="146" y="302"/>
<text x="194" y="321" class="el">e<tspan dy="-11" font-size="14">-</tspan></text>
<use href="#rh" x="263" y="301"/><use href="#rh" x="304" y="301"/>
<text x="347" y="321" class="el">e<tspan dy="-11" font-size="14">-</tspan></text>
<use href="#rh" x="492" y="301"/>
<text x="536" y="321" class="el">e<tspan dy="-11" font-size="14">-</tspan></text>
</g>

<!-- Fig 8 panel b -->
<g transform="translate(1241,2366)">
<path d="M0,162 C20,60 200,5 610,0 L610,162Z" fill="url(#gDrop)"/>
<rect x="0" y="162" width="244" height="139" fill="url(#gCath)"/>
<rect x="244" y="162" width="244" height="139" fill="url(#gMA)"/>
<rect x="488" y="162" width="122" height="139" fill="url(#gAn)"/>
<path d="M244,162V301M488,162V301" stroke="#111" stroke-width="2"/>
<text x="1" y="32" class="fl">(b)</text>
<text x="442" y="54" class="dr">Droplet</text>
<text x="1" y="66" class="ox">O<tspan dy="5" font-size="15">2</tspan><tspan dy="-5">+H</tspan><tspan dy="5" font-size="15">2</tspan><tspan dy="-5">O</tspan></text>
<path d="M42,74 C96,72 121,100 121,134" class="ba" marker-end="url(#mbl)"/>
<text x="130" y="156" class="ox">OH<tspan dy="-10" font-size="14">-</tspan></text>
<text x="313" y="58" class="oxs">O<tspan dy="4" font-size="12">2</tspan><tspan dy="-4">+H</tspan><tspan dy="4" font-size="12">2</tspan><tspan dy="-4">O</tspan></text>
<path d="M364,65 C420,75 462,110 469,140" class="ba" marker-end="url(#mbl)"/>
<text x="426" y="146" class="oxs">OH<tspan dy="-8" font-size="11">-</tspan></text>
<text x="264" y="136" class="fe">Fe<tspan dy="-8" font-size="11">2+</tspan></text>
<text x="325" y="136" class="fe">Fe<tspan dy="-8" font-size="11">2+</tspan></text>
<text x="385" y="136" class="fe">Fe<tspan dy="-8" font-size="11">2+</tspan></text>
<text x="519" y="136" class="fe">Fe<tspan dy="-8" font-size="11">2+</tspan></text>
<path d="M306,178 C306,158 294,165 290,150" class="fa" marker-end="url(#mr)"/>
<path d="M367,178 C367,158 355,165 351,150" class="fa" marker-end="url(#mr)"/>
<path d="M428,178 C428,158 415,165 411,150" class="fa" marker-end="url(#mr)"/>
<path d="M564,178 C564,158 549,165 545,150" class="fa" marker-end="url(#mr)"/>
<text x="300" y="192" class="fe">Fe</text><text x="361" y="192" class="fe">Fe</text><text x="422" y="192" class="fe">Fe</text><text x="558" y="192" class="fe">Fe</text>
<use href="#yu" x="265" y="166"/><use href="#yu" x="326" y="166"/><use href="#yu" x="495" y="166"/><use href="#yu" x="535" y="166"/><use href="#yu" x="577" y="166"/>
<text x="276" y="224" class="el">e<tspan dy="-11" font-size="14">-</tspan></text>
<text x="334" y="224" class="el">e<tspan dy="-11" font-size="14">-</tspan></text>
<text x="503" y="224" class="el">e<tspan dy="-11" font-size="14">-</tspan></text>
<text x="548" y="224" class="el">e<tspan dy="-11" font-size="14">-</tspan></text>
<text x="586" y="224" class="el">e<tspan dy="-11" font-size="14">-</tspan></text>
<text x="122" y="287" class="lbl">Major Cathode</text>
<text x="366" y="287" class="lbl">Major Anode</text>
<text x="549" y="287" class="lbl">Anode</text>
<use href="#bh" x="37" y="302"/><use href="#bh" x="82" y="302"/><use href="#bh" x="126" y="302"/><use href="#bh" x="171" y="302"/>
<text x="219" y="321" class="el">e<tspan dy="-11" font-size="14">-</tspan></text>
<use href="#rh" x="248" y="301"/><use href="#rh" x="284" y="301"/><use href="#rh" x="321" y="301"/>
<text x="363" y="321" class="el">e<tspan dy="-11" font-size="14">-</tspan></text>
<use href="#rh" x="495" y="301"/>
<text x="537" y="321" class="el">e<tspan dy="-11" font-size="14">-</tspan></text>
</g>

<!-- Fig 8 panel c -->
<g transform="translate(614,2713)">
<path d="M0,162 C20,60 200,5 609,0 L609,162Z" fill="url(#gDrop)"/>
<rect x="0" y="162" width="242" height="139" fill="url(#gCath)"/>
<rect x="242" y="162" width="245" height="139" fill="url(#gAn)"/>
<rect x="487" y="162" width="122" height="139" fill="url(#gMA)"/>
<path d="M242,162V301M487,162V301" stroke="#111" stroke-width="2"/>
<text x="6" y="30" class="fl">(c)</text>
<text x="440" y="54" class="dr">Droplet</text>
<text x="0" y="65" class="ox">O<tspan dy="5" font-size="15">2</tspan><tspan dy="-5">+H</tspan><tspan dy="5" font-size="15">2</tspan><tspan dy="-5">O</tspan></text>
<path d="M41,73 C95,71 119,100 119,134" class="ba" marker-end="url(#mbl)"/>
<text x="126" y="156" class="ox">OH<tspan dy="-10" font-size="14">-</tspan></text>
<text x="304" y="57" class="oxs">O<tspan dy="4" font-size="12">2</tspan><tspan dy="-4">+H</tspan><tspan dy="4" font-size="12">2</tspan><tspan dy="-4">O</tspan></text>
<path d="M352,65 C410,75 452,110 457,140" class="ba" marker-end="url(#mbl)"/>
<text x="417" y="145" class="oxs">OH<tspan dy="-8" font-size="11">-</tspan></text>
<text x="284" y="137" class="fe">Fe<tspan dy="-8" font-size="11">2+</tspan></text>
<text x="360" y="137" class="fe">Fe<tspan dy="-8" font-size="11">2+</tspan></text>
<text x="482" y="137" class="fe">Fe<tspan dy="-8" font-size="11">2+</tspan></text>
<text x="527" y="137" class="fe">Fe<tspan dy="-8" font-size="11">2+</tspan></text>
<path d="M326,178 C326,158 314,165 310,150" class="fa" marker-end="url(#mr)"/>
<path d="M403,178 C403,158 390,165 386,150" class="fa" marker-end="url(#mr)"/>
<path d="M524,178 C524,158 512,165 508,150" class="fa" marker-end="url(#mr)"/>
<path d="M569,178 C569,158 557,165 553,150" class="fa" marker-end="url(#mr)"/>
<text x="320" y="192" class="fe">Fe</text><text x="397" y="192" class="fe">Fe</text><text x="518" y="192" class="fe">Fe</text><text x="563" y="192" class="fe">Fe</text>
<use href="#yu" x="28" y="166"/><use href="#yu" x="79" y="166"/><use href="#yu" x="131" y="166"/><use href="#yu" x="182" y="166"/>
<use href="#yu" x="276" y="166"/><use href="#yu" x="352" y="166"/><use href="#yu" x="430" y="166"/>
<use href="#yu" x="494" y="166"/><use href="#yu" x="539" y="166"/>
<text x="38" y="224" class="el">e<tspan dy="-11" font-size="14">-</tspan></text>
<text x="92" y="224" class="el">e<tspan dy="-11" font-size="14">-</tspan></text>
<text x="140" y="224" class="el">e<tspan dy="-11" font-size="14">-</tspan></text>
<text x="192" y="224" class="el">e<tspan dy="-11" font-size="14">-</tspan></text>
<text x="288" y="224" class="el">e<tspan dy="-11" font-size="14">-</tspan></text>
<text x="362" y="224" class="el">e<tspan dy="-11" font-size="14">-</tspan></text>
<text x="441" y="224" class="el">e<tspan dy="-11" font-size="14">-</tspan></text>
<text x="505" y="224" class="el">e<tspan dy="-11" font-size="14">-</tspan></text>
<text x="551" y="224" class="el">e<tspan dy="-11" font-size="14">-</tspan></text>
<text x="121" y="288" class="lbl">Major Cathode</text>
<text x="363" y="288" class="lbl">Anode</text>
<text x="548" y="265" class="lbl">Major</text>
<text x="548" y="297" class="lbl">Anode</text>
<use href="#bh" x="8" y="304"/><use href="#bh" x="51" y="304"/><use href="#bh" x="95" y="304"/><use href="#bh" x="138" y="304"/><use href="#bh" x="181" y="304"/>
<text x="227" y="322" class="el">e<tspan dy="-11" font-size="14">-</tspan></text>
<use href="#rh" x="308" y="301"/><use href="#rh" x="350" y="301"/>
<text x="395" y="322" class="el">e<tspan dy="-11" font-size="14">-</tspan></text>
<use href="#rh" x="476" y="301"/><use href="#rh" x="514" y="301"/><use href="#rh" x="553" y="301"/>
<text x="597" y="322" class="el">e<tspan dy="-11" font-size="14">-</tspan></text>
</g>

<!-- Fig 8 panel d -->
<g transform="translate(1241,2713)">
<path d="M0,162 C20,60 200,5 610,0 L610,162Z" fill="url(#gDrop)"/>
<rect x="0" y="162" width="244" height="139" fill="url(#gCath)"/>
<rect x="244" y="162" width="244" height="139" fill="url(#gAn)"/>
<rect x="488" y="162" width="122" height="139" fill="url(#gMA)"/>
<path d="M244,162V301M488,162V301" stroke="#111" stroke-width="2"/>
<text x="1" y="30" class="fl">(d)</text>
<text x="442" y="54" class="dr">Droplet</text>
<text x="1" y="65" class="ox">O<tspan dy="5" font-size="15">2</tspan><tspan dy="-5">+H</tspan><tspan dy="5" font-size="15">2</tspan><tspan dy="-5">O</tspan></text>
<path d="M42,73 C96,71 121,100 121,134" class="ba" marker-end="url(#mbl)"/>
<text x="128" y="156" class="ox">OH<tspan dy="-10" font-size="14">-</tspan></text>
<text x="309" y="57" class="oxs">O<tspan dy="4" font-size="12">2</tspan><tspan dy="-4">+H</tspan><tspan dy="4" font-size="12">2</tspan><tspan dy="-4">O</tspan></text>
<path d="M357,65 C415,75 460,110 465,140" class="ba" marker-end="url(#mbl)"/>
<text x="420" y="145" class="oxs">OH<tspan dy="-8" font-size="11">-</tspan></text>
<text x="284" y="137" class="fe">Fe<tspan dy="-8" font-size="11">2+</tspan></text>
<text x="361" y="137" class="fe">Fe<tspan dy="-8" font-size="11">2+</tspan></text>
<text x="483" y="137" class="fe">Fe<tspan dy="-8" font-size="11">2+</tspan></text>
<text x="523" y="137" class="fe">Fe<tspan dy="-8" font-size="11">2+</tspan></text>
<text x="564" y="137" class="fe">Fe<tspan dy="-8" font-size="11">2+</tspan></text>
<path d="M327,178 C327,158 314,165 310,150" class="fa" marker-end="url(#mr)"/>
<path d="M404,178 C404,158 391,165 387,150" class="fa" marker-end="url(#mr)"/>
<path d="M525,178 C525,158 513,165 509,150" class="fa" marker-end="url(#mr)"/>
<path d="M566,178 C566,158 553,165 549,150" class="fa" marker-end="url(#mr)"/>
<path d="M598,178 C598,158 594,165 590,150" class="fa" marker-end="url(#mr)"/>
<text x="321" y="192" class="fe">Fe</text><text x="398" y="192" class="fe">Fe</text><text x="519" y="192" class="fe">Fe</text><text x="560" y="192" class="fe">Fe</text><text x="592" y="192" class="fe">Fe</text>
<use href="#yu" x="26" y="166"/><use href="#yu" x="79" y="166"/><use href="#yu" x="131" y="166"/><use href="#yu" x="184" y="166"/>
<use href="#yu" x="277" y="166"/><use href="#yu" x="350" y="166"/><use href="#yu" x="431" y="166"/>
<use href="#yu" x="495" y="166"/><use href="#yu" x="535" y="166"/>
<text x="40" y="224" class="el">e<tspan dy="-11" font-size="14">-</tspan></text>
<text x="92" y="224" class="el">e<tspan dy="-11" font-size="14">-</tspan></text>
<text x="143" y="224" class="el">e<tspan dy="-11" font-size="14">-</tspan></text>
<text x="193" y="224" class="el">e<tspan dy="-11" font-size="14">-</tspan></text>
<text x="288" y="224" class="el">e<tspan dy="-11" font-size="14">-</tspan></text>
<text x="364" y="224" class="el">e<tspan dy="-11" font-size="14">-</tspan></text>
<text x="442" y="224" class="el">e<tspan dy="-11" font-size="14">-</tspan></text>
<text x="507" y="224" class="el">e<tspan dy="-11" font-size="14">-</tspan></text>
<text x="548" y="224" class="el">e<tspan dy="-11" font-size="14">-</tspan></text>
<text x="122" y="288" class="lbl">Major Cathode</text>
<text x="366" y="288" class="lbl">Anode</text>
<text x="549" y="265" class="lbl">Major</text>
<text x="549" y="297" class="lbl">Anode</text>
<use href="#bh" x="5" y="304"/><use href="#bh" x="48" y="304"/><use href="#bh" x="90" y="304"/><use href="#bh" x="134" y="304"/><use href="#bh" x="177" y="304"/><use href="#bh" x="220" y="304"/>
<text x="268" y="322" class="el">e<tspan dy="-11" font-size="14">-</tspan></text>
<use href="#rh" x="309" y="301"/><use href="#rh" x="352" y="301"/>
<text x="398" y="322" class="el">e<tspan dy="-11" font-size="14">-</tspan></text>
<use href="#rh" x="467" y="301"/><use href="#rh" x="503" y="301"/><use href="#rh" x="543" y="301"/><use href="#rh" x="580" y="301"/>
<text x="616" y="322" class="el">e<tspan dy="-11" font-size="14">-</tspan></text>
</g>

<!-- Legend -->
<rect x="1293" y="3060" width="554" height="45" fill="none" stroke="#222" stroke-width="1.5" stroke-dasharray="2,2"/>
<use href="#bh" x="1303" y="3068"/>
<use href="#rh" x="1345" y="3064"/>
<text x="1396" y="3091" class="lg">Macro-cell current</text>
<use href="#yu" x="1612" y="3066"/>
<text x="1643" y="3091" class="lg">Micro-cell current</text>

<!-- Fig 8 caption -->
<text x="893" y="3183" class="zh" font-size="35" textLength="699" lengthAdjust="spacing"><tspan font-weight="bold" fill="#000">图 8</tspan> 不同电导率液滴下金属表面腐蚀机理图</text>
<text x="307" y="3234" class="cap" textLength="1866" lengthAdjust="spacing"><tspan font-weight="bold">Fig.8</tspan> Corrosion mechanism diagrams of metals under droplets with 0.001 mol/L (a), 0.003 mol/L (b), 0.2 mol/L (c) and</text>
<text x="398" y="3285" class="cap">0.5 mol/L (d) concentration</text>
</svg>
</body></html>
